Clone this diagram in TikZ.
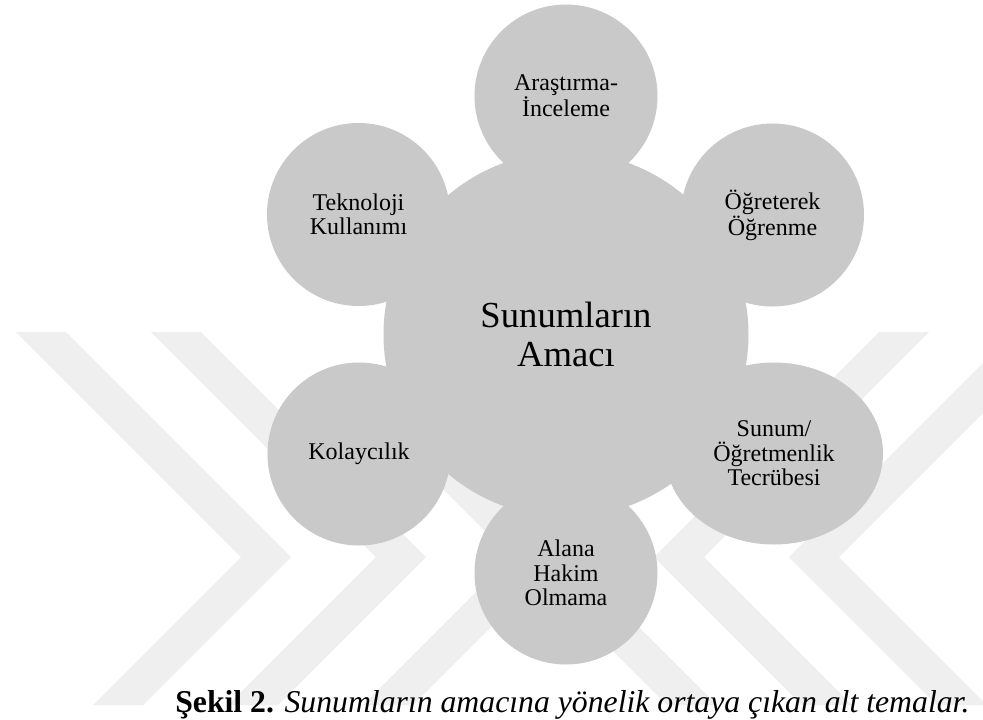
\documentclass[tikz,border=0pt]{standalone}
\usepackage{fontspec}
\setmainfont{Liberation Serif}
\usetikzlibrary{shapes.geometric}

\definecolor{bubble}{HTML}{C9C9C9}
\definecolor{wmark}{HTML}{EFEFEF}

\tikzset{
  satfont/.style={font=\fontsize{18}{18.3}\selectfont},
  sat/.style={circle, fill=bubble, inner sep=0pt, minimum size=137.25pt, align=center, satfont},
  oval/.style={ellipse, fill=bubble, inner sep=0pt, minimum width=163.5pt, minimum height=136.5pt, align=center, satfont},
  hub/.style={circle, fill=bubble, inner sep=0pt, minimum size=273.75pt, align=center, font=\fontsize{27.5}{29.3}\selectfont},
  band/.style={fill=wmark},
  captionstyle/.style={anchor=base west, inner sep=0pt, font=\fontsize{23.8}{26}\selectfont}
}

% one chevron band: inner corner at (#1,557), upper arm cut at y=#2
\newcommand\wmchevron[2]{%
  \fill[band] ({#1-(557-#2)},#2) -- (#1,557) -- (#1-148,705) -- (#1-98,705)
              -- (#1+50,557) -- ({#1+50-(557-#2)},#2) -- cycle;}

\begin{document}
\begin{tikzpicture}[x=0.75pt,y=-0.75pt]
\useasboundingbox (0,0) rectangle (983,719);
\fill[white] (0,0) rectangle (983,719);

% faint chevron marks in the background, pointing inwards from both sides
\foreach \nx/\yt in {241/332,376/332,511/430}{\wmchevron{\nx}{\yt}}
\begin{scope}[shift={(1080,0)}, xscale=-1]
\foreach \nx/\yt in {241/332,376/332,511/430}{\wmchevron{\nx}{\yt}}
\end{scope}

% theme bubbles
\node[sat] (arast) at (566,96)    {Araştırma-\\İnceleme};
\node[sat] (ogret) at (772.5,215) {Öğreterek\\Öğrenme};
\node[oval] (sunum) at (774,453.5) {Sunum/\\Öğretmenlik\\Tecrübesi};
\node[sat] (alana) at (566,573)   {Alana\\Hakim\\Olmama};
\node[sat] (kolay) at (359,454)   {Kolaycılık};
\node[sat] (tekno) at (358.5,214.5) {Teknoloji\\Kullanımı};
\node[hub] (hub) at (566,334.5)   {Sunumların\\Amacı};

% caption
\node[captionstyle] (caption) at (175,712)
  {\textbf{Şekil 2.} \textit{Sunumların amacına yönelik ortaya çıkan alt temalar.}};
\end{tikzpicture}
\end{document}
